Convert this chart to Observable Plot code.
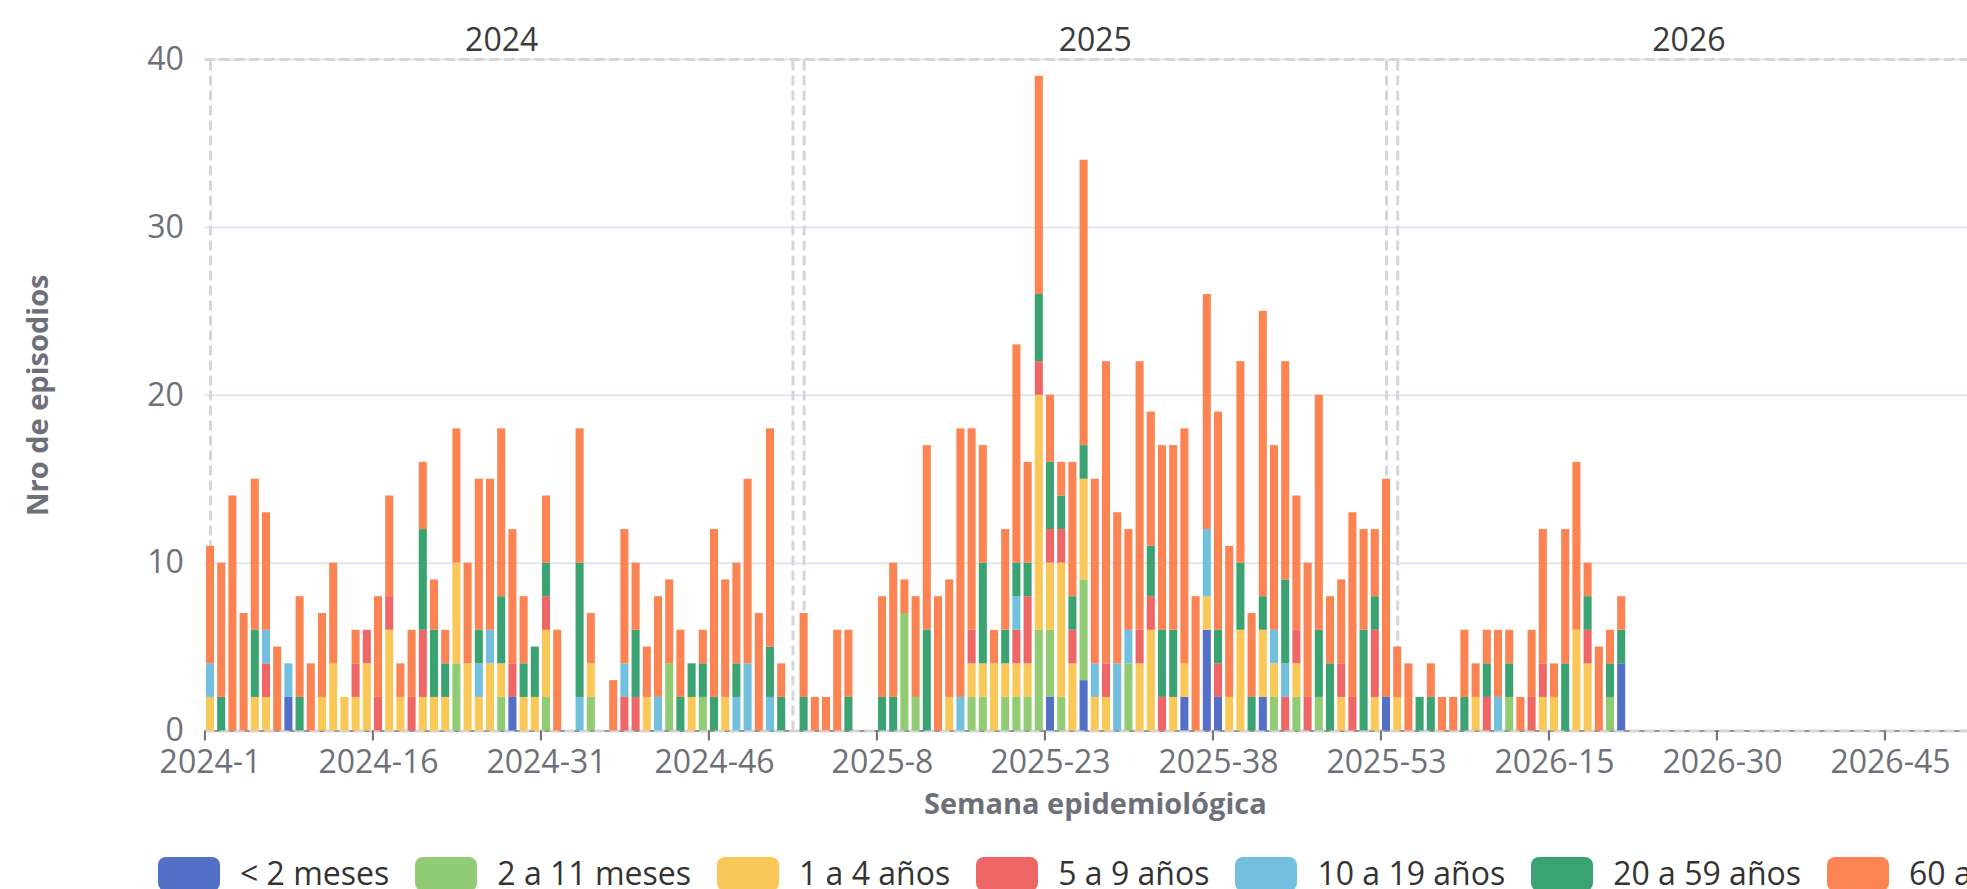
<!DOCTYPE html>
<html>
<head>
<meta charset="utf-8">
<script src="https://cdn.jsdelivr.net/npm/d3@7"></script>
<script src="https://cdn.jsdelivr.net/npm/@observablehq/plot@0.6"></script>
<style>
  html, body { margin: 0; padding: 0; background: #fff; overflow: hidden; width: 1967px; height: 889px; }
  #wrap { position: relative; width: 1967px; height: 889px; overflow: hidden; }
  #chart { position: absolute; left: 0; top: 0; }
  #legend { position: absolute; left: 158px; top: 857px; display: flex; align-items: center; white-space: nowrap;
            font-family: 'Open Sans', sans-serif; font-size: 32px; color: #333; height: 30px; }
  .item { display: flex; align-items: center; margin-right: 26px; flex: none; height: 30px; }
  .sw { width: 62px; height: 34px; border-radius: 8px; margin-right: 20px; flex: none; align-self: flex-start; }
  .lt { line-height: 28px; display: inline-block; height: 28px; padding-top: 2px; }
</style>
</head>
<body>
<div id="wrap">
  <div id="chart"></div>
  <div id="legend"></div>
</div>
<script>
// ---------- categories / labels ----------
const years = [2024, 2025, 2026];
const weeksPerYear = 53;
const tickLabels = ["2024-1", "2024-16", "2024-31", "2024-46", "2025-8", "2025-23", "2025-38", "2025-53", "2026-15", "2026-30", "2026-45"];
const yTicks = [0, 10, 20, 30, 40];
const ageGroups = ["< 2 meses", "2 a 11 meses", "1 a 4 años", "5 a 9 años", "10 a 19 años", "20 a 59 años", "60 años y más"];
const groupColors = ["#5470c6", "#91cc75", "#fac858", "#ee6666", "#73c0de", "#3ba272", "#fc8452"];
const yLabel = "Nro de episodios";
const xLabel = "Semana epidemiológica";

// ---------- series values (2024-1..53, 2025-1..53, 2026-1..21) ----------
const menos2meses = [
  0,0,0,0,0,0,0,2,0,0, 0,0,0,0,0,0,0,0,0,0, 0,0,0,0,0,0,0,2,0,0, 0,0,0,0,0,0,0,0,0,0, 0,0,0,0,0,0,0,0,0,0, 0,0,0,
  0,0,0,0,0,0,0,0,0,0, 0,0,0,0,0,0,0,0,0,0, 0,0,2,0,0,3,0,0,0,0, 0,0,0,0,2,0,6,2,0,0, 0,2,0,0,0,0,0,0,0,0, 0,0,2,
  0,0,0,0,0,0,0,0,0,0, 0,0,0,0,0,0,0,0,0,0, 4
];
const de2a11meses = [
  0,0,0,0,0,0,0,0,0,0, 0,0,0,0,0,0,0,0,0,0, 0,0,4,0,0,0,2,0,0,0, 2,0,0,0,2,0,0,0,0,0, 0,4,0,0,2,0,0,0,0,0, 0,0,0,
  0,0,0,0,0,0,0,0,0,7, 2,0,0,0,0,2,2,0,2,2, 2,6,4,2,0,6,0,0,0,4, 0,0,0,0,0,0,0,0,0,0, 0,0,2,0,2,0,2,0,0,0, 0,0,0,
  0,0,0,0,0,0,0,0,0,0, 2,0,0,0,0,0,0,0,0,2, 0
];
const de1a4anios = [
  2,0,0,0,2,2,0,0,0,0, 2,4,2,2,4,0,6,2,0,2, 2,2,6,4,2,4,2,0,2,2, 4,0,0,0,2,0,0,0,0,2, 0,0,0,2,0,0,2,0,0,0, 0,0,0,
  0,0,0,0,0,0,0,0,0,0, 0,0,0,2,0,2,2,4,2,2, 2,14,4,8,4,6,2,2,0,0, 4,6,0,2,2,0,2,0,2,6, 0,4,2,0,2,0,0,0,2,0, 0,2,0,
  2,0,0,0,0,0,0,2,0,0, 0,0,0,2,2,0,6,4,0,0, 0
];
const de5a9anios = [
  0,0,0,0,0,2,0,0,0,0, 0,0,0,2,2,2,2,0,2,4, 0,0,0,0,0,0,0,2,0,0, 2,0,0,0,0,0,0,2,2,0, 0,0,0,0,0,0,0,0,0,0, 0,0,0,
  0,0,0,0,0,0,0,0,0,0, 0,0,0,0,0,2,0,0,0,2, 4,2,2,2,2,0,0,2,0,0, 2,2,2,0,0,0,0,2,0,0, 0,0,0,2,2,2,0,0,2,2, 0,4,0,
  0,0,0,0,0,0,0,0,2,0, 0,0,2,2,0,0,0,2,0,0, 0
];
const de10a19anios = [
  2,0,0,0,0,2,0,2,0,0, 0,0,0,0,0,0,0,0,0,0, 0,0,0,0,2,2,0,0,0,0, 0,0,0,2,0,0,0,2,0,0, 2,0,0,0,0,0,0,2,4,0, 2,0,0,
  0,0,0,0,0,0,0,0,0,0, 0,0,0,0,2,0,0,0,0,2, 0,0,0,0,0,0,2,0,4,2, 0,0,0,0,0,0,4,0,0,0, 0,0,2,2,0,0,0,0,0,0, 0,0,0,
  0,0,0,0,0,0,0,0,0,2, 0,0,0,0,0,0,0,0,0,0, 0
];
const de20a59anios = [
  0,2,0,0,4,0,0,0,2,0, 0,0,0,0,0,0,0,0,0,6, 4,2,0,0,2,0,4,0,2,3, 2,0,0,8,0,0,0,0,4,0, 0,0,2,2,2,2,0,2,0,0, 3,2,0,
  2,0,0,0,2,0,0,2,2,0, 0,6,0,0,0,0,6,0,2,2, 2,4,4,2,2,2,0,0,0,0, 0,3,4,4,0,0,0,2,0,4, 2,2,0,5,0,0,4,4,0,0, 6,2,0,
  0,0,2,2,0,0,2,0,2,0, 2,0,0,0,0,4,0,2,0,2, 2
];
const mas60anios = [
  7,8,14,7,9,7,5,0,6,4, 5,6,0,2,0,6,6,2,4,4, 3,2,8,6,9,9,10,8,4,0, 4,6,0,8,3,0,3,8,4,3, 6,5,4,0,2,10,7,6,11,7, 13,2,0,
  5,2,2,6,4,0,0,6,8,2, 6,11,8,7,16,12,7,2,6,13, 6,13,4,2,8,17,11,18,9,6, 16,8,11,11,14,8,14,13,9,12, 5,17,11,13,8,8,14,4,5,11, 6,4,13,
  3,4,0,2,2,2,4,2,2,4, 2,2,4,8,2,8,10,2,5,2, 2
];

// ---------- build table ----------
const categories = years.flatMap(y => d3.range(1, weeksPerYear + 1).map(w => `${y}-${w}`));
const seriesValues = [menos2meses, de2a11meses, de1a4anios, de5a9anios, de10a19anios, de20a59anios, mas60anios];
const rows = ageGroups.flatMap((g, gi) => seriesValues[gi].map((v, i) => ({week: categories[i], group: g, value: v})));
const boxEdges = years.flatMap(y => [`${y}-1`, `${y}-${weeksPerYear}`]);
const yearMid = years.map(y => ({year: String(y), week: `${y}-${Math.ceil(weeksPerYear / 2)}`}));

const W = 2080, H = 830;
const chart = Plot.plot({
  width: W,
  height: H,
  marginLeft: 204.4,
  marginRight: W - 1985.2,
  marginTop: 59,
  marginBottom: H - 730.5,
  style: {fontFamily: "'Open Sans', sans-serif", fontSize: "32px", background: "#fff", maxWidth: "none", overflow: "visible"},
  x: {type: "band", domain: categories, paddingInner: 0.28, paddingOuter: 0.14, round: false, axis: null},
  y: {domain: [0, 40], axis: null},
  color: {domain: ageGroups, range: groupColors},
  marks: [
    Plot.ruleY(yTicks.filter(d => d > 0), {stroke: "#E0E6F1", strokeWidth: 2}),
    Plot.axisY(yTicks, {tickSize: 0, tickPadding: 21, fontSize: 32, fill: "#6E7079", label: null}),
    Plot.ruleY([0], {stroke: "#6E7079", strokeWidth: 1.6}),
    Plot.ruleY([0, 40], {stroke: "#d6d6da", strokeWidth: 3, strokeDasharray: "10,5"}),
    Plot.ruleX(boxEdges, {x: d => d, y1: 0, y2: 40, stroke: "#d6d6da", strokeWidth: 3, strokeDasharray: "10,5"}),
    Plot.barY(rows, {x: "week", y: "value", fill: "group"}),
    Plot.axisX(tickLabels, {tickSize: 10, tickFormat: () => "", dx: -5.6, stroke: "#6E7079", strokeWidth: 2, label: null}),
    Plot.axisX(tickLabels, {tickSize: 0, tickPadding: 19, fontSize: 32, fill: "#6E7079", label: null}),
    Plot.text(yearMid, {x: "week", text: "year", frameAnchor: "top", dy: -31, fontSize: 32, fill: "#3a3a3a"}),
    Plot.text([yLabel], {text: d => d, frameAnchor: "left", textAnchor: "middle", lineAnchor: "middle", dx: -166, rotate: -90, fontSize: 29, fontWeight: "bold", fill: "#6E7079"}),
    Plot.text([xLabel], {text: d => d, frameAnchor: "bottom", textAnchor: "middle", lineAnchor: "middle", dy: 74, fontSize: 29, fontWeight: "bold", fill: "#6E7079"})
  ]
});
document.getElementById("chart").appendChild(chart);

// ---------- legend ----------
const legend = document.getElementById("legend");
ageGroups.forEach((g, i) => {
  const item = document.createElement("div");
  item.className = "item";
  const sw = document.createElement("div");
  sw.className = "sw";
  sw.style.background = groupColors[i];
  const t = document.createElement("span");
  t.className = "lt";
  t.textContent = g;
  item.appendChild(sw);
  item.appendChild(t);
  legend.appendChild(item);
});
</script>
</body>
</html>
